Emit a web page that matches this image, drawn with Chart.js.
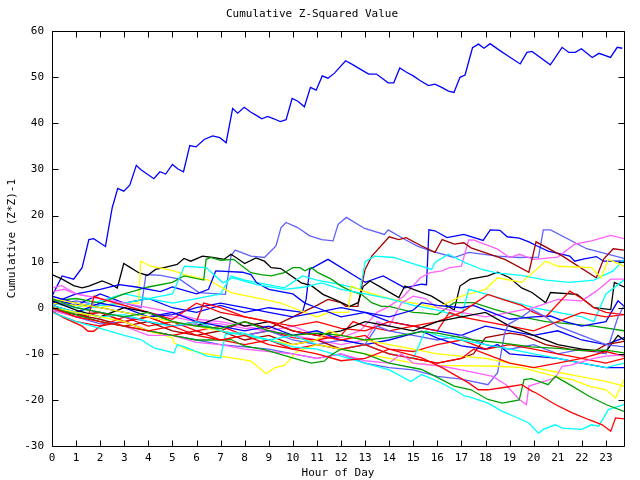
<!DOCTYPE html>
<html>
<head>
<meta charset="utf-8">
<script src="https://cdn.jsdelivr.net/npm/chart.js@4.4.1/dist/chart.umd.min.js"></script>
<style>
  html, body { margin: 0; padding: 0; background: #fff; }
</style>
</head>
<body>
<canvas id="chart" width="640" height="480"></canvas>
<script>
// --- DATA (hour of day, cumulative value) ---
const hourTicks = [0,1,2,3,4,5,6,7,8,9,10,11,12,13,14,15,16,17,18,19,20,21,22,23];
const valueTicks = [-30,-20,-10,0,10,20,30,40,50,60];

const bigBlue = [[0,2.5],[0.42,6.9],[0.9,6.2],[1.25,8.7],[1.53,14.8],[1.73,15],[2.22,13.3],[2.5,21.7],[2.73,25.9],[2.98,25.3],[3.23,26.6],[3.5,30.9],[3.68,30],[4.23,28],[4.48,29.5],[4.72,29],[5.0,31.1],[5.23,30.1],[5.46,29.5],[5.72,35.2],[5.98,34.9],[6.32,36.5],[6.67,37.3],[6.97,36.9],[7.23,35.8],[7.5,43.2],[7.71,42.2],[7.98,43.5],[8.26,42.4],[8.47,41.8],[8.71,41.0],[8.96,41.5],[9.21,41.0],[9.48,40.4],[9.72,40.8],[9.97,45.4],[10.21,44.8],[10.48,43.6],[10.73,47.8],[10.97,47.2],[11.22,50.3],[11.46,49.8],[11.73,50.9],[12.19,53.6],[12.43,52.9],[12.92,51.4],[13.15,50.7],[13.47,50.7],[13.96,48.8],[14.19,48.8],[14.44,52.0],[14.72,51.1],[15.0,50.3],[15.28,49.3],[15.63,48.2],[15.9,48.5],[16.18,47.8],[16.46,47.0],[16.69,46.7],[16.94,50.0],[17.15,50.5],[17.46,56.4],[17.71,57.2],[17.94,56.3],[18.19,57.3],[18.54,56.0],[19.03,54.3],[19.44,52.9],[19.72,55.4],[19.93,55.6],[20.69,52.7],[21.18,56.5],[21.46,55.4],[21.73,55.4],[21.98,56.2],[22.43,54.3],[22.71,55.2],[23.19,54.3],[23.47,56.5],[23.68,56.3]];

const peri1 = [[0,0.5],[1,1.5],[2,0.5],[3,1],[3.7,0],[3.9,7.2],[4.5,7],[5.3,6.2],[6.1,3.3],[7.2,2.9],[7.43,11.2],[7.6,12.5],[8.26,11.2],[8.82,10.9],[9.3,13.4],[9.51,17.4],[9.72,18.5],[10.2,17.4],[10.7,15.6],[11.2,14.8],[11.67,14.5],[11.88,18.1],[12.22,19.6],[12.98,17.2],[13.8,15.9],[13.96,16.9],[14.65,14.8],[15.2,13.3],[15.76,12.3],[16.7,10.9],[17.3,12],[18.5,11.2],[19.4,10.9],[20.2,11],[20.4,16.9],[20.7,16.9],[22.2,12.8],[23.75,10.7]];
const magenta1 = [[0,4.3],[0.4,4.8],[1,3],[2,2],[3,0.5],[4,-1],[5,-2],[6,-3],[7,-3.5],[8,-4.5],[9,-5],[10,-4],[11,-6],[12,-6.5],[12.8,-5],[13.5,-1],[14,0.3],[14.6,2.5],[15.3,6.5],[15.7,7.6],[16.2,8],[16.5,8.7],[17,9],[17.3,14.7],[17.5,14.7],[18.5,12.7],[19,10.9],[19.4,11.6],[20,10.5],[21,11],[21.7,13.8],[22.4,14.5],[23.2,15.7],[23.75,15]];
const darkRed1 = [[0,0],[1,-1.5],[2,-1],[3,-3],[4,-2],[5,-4],[6,-3],[7,-5],[8,-3],[9,-4.5],[10,-2],[11,0.5],[11.46,1.8],[12,1.1],[12.2,0.3],[12.7,0.3],[12.84,4.3],[13.0,8.3],[13.28,11.2],[14,15.4],[14.4,14.8],[14.7,15.2],[15.35,13.4],[15.9,12],[16.2,14.8],[16.7,13.8],[17.1,14.1],[17.4,13],[18.8,10.5],[19.8,7.7],[20.1,14.3],[21.2,11.2],[22.6,6.5],[22.9,10.5],[23.3,12.8],[23.75,12.5]];
const blue2 = [[0,2],[1,0.5],[2,3],[3,1],[4,2],[5,0],[6,-1],[7,0.5],[8,-1],[9,0],[10.4,-1],[10.55,1.8],[10.7,8.3],[11.46,10.5],[12.7,6.5],[13.0,5.5],[13.75,6.9],[14.65,4.3],[15.35,5.1],[15.55,5],[15.65,16.9],[15.9,16.7],[16.4,15.2],[17.1,15.9],[17.9,14.6],[18.2,16.9],[18.6,16.8],[18.9,15.4],[19.4,15.1],[19.8,14.3],[20.1,13.5],[20.6,12.3],[21.2,11.6],[21.5,11.2],[21.7,10.1],[22.1,10.6],[22.6,11.1],[22.9,10.1],[23.75,10.1]];
const black1 = [[0,7.2],[0.42,6.2],[0.9,4.8],[1.25,4.3],[1.53,4.7],[2.08,5.8],[2.43,5.1],[2.71,4.3],[2.98,9.6],[3.26,8.7],[3.6,7.6],[3.96,7.0],[4.3,8.3],[4.65,8.7],[5.2,9.4],[5.48,10.7],[5.76,10.1],[6.25,11.2],[6.67,10.9],[7.15,10.5],[7.43,11.6],[7.7,10.7],[8.0,9.6],[8.47,10.8],[8.82,10.1],[9.1,8.7],[9.5,8.5],[10.35,5.4],[10.77,4.8],[11.25,2.9],[11.73,1.8],[12.36,0.3],[12.71,1.1],[12.92,4.6],[13.2,5.8],[13.7,4.3],[14.4,2.2],[14.65,4.7],[15.2,3.6],[15.76,2.5],[16.2,1.1],[16.7,-0.5],[16.94,4.7],[17.36,6.2],[18.1,6.9],[18.5,7.7],[19.0,6.5],[19.5,4.3],[19.93,3.3],[20.5,1.1],[20.7,3.3],[21.8,2.9],[22.5,0],[23.2,-0.4],[23.35,5.5],[23.75,4.5]];
const black2 = [[0,1.5],[1,-0.5],[2,-2],[3,0],[4,-1],[5,-3],[6,-4],[7,-2],[8,-4],[9,-3],[10,-5],[11,-6],[12,-5],[13,-3],[14,-4],[15,-5],[16,-3],[17,-2],[18,-1],[19,-4],[20,-6],[21,-8],[22,-9],[23,-9.5],[23.5,-6],[23.75,-7]];
const green1 = [[0,1.5],[1,2],[2,1],[3,3],[4,4.5],[5,5.5],[5.48,6.9],[6.3,6],[6.4,10.5],[6.6,10.9],[7.0,10.3],[7.55,10.5],[7.85,9.2],[8.26,7.6],[8.68,7.2],[9.1,6.9],[9.65,7.6],[10,8.7],[10.3,8.7],[10.5,8.0],[10.77,8.7],[11.04,7.6],[11.6,6.2],[12,4.7],[12.43,3.6],[12.85,2.9],[13.27,1.1],[13.68,0.3],[14,0.3],[15,-1],[15.35,-1.1],[16,-1.5],[16.7,1.1],[17.5,1.1],[18.4,-0.4],[19.5,-2],[20.5,-3],[21.5,-3.5],[22.5,-4],[23.75,-5]];
const green2 = [[0,2],[1,0],[2,-1],[3,-2],[4,-1],[5,-3],[6,-4],[7,-4.5],[8,-3],[9,-5],[10,-6],[11,-5.5],[12,-6],[13,-7],[14,-6.5],[15.35,-5.2],[16,-5.5],[16.5,-6],[17.5,-7],[18.5,-7.5],[19.9,-8.5],[21,-8.8],[22,-9.3],[23,-9.2],[23.75,-9.8]];
const green3 = [[0,0],[1,-1.5],[2,-3],[3,-4],[4,-5],[5,-6],[6,-7],[7,-7],[7.43,-6.9],[7.98,-8.3],[8.82,-9.1],[10.2,-11.2],[10.77,-12],[11.3,-11.6],[11.6,-10.2],[12,-9],[13,-10],[14,-12],[15.35,-13.4],[16.18,-15.6],[16.7,-17],[17.4,-17.8],[18.1,-19.9],[18.7,-20.7],[19.4,-20],[19.6,-15.6],[19.9,-15.4],[20.6,-16.7],[20.9,-14.9],[21.6,-17],[22.3,-19.2],[23,-21],[23.75,-22.5]];
const cyan1 = [[0,-1],[0.5,-2],[1,-3],[2,-4.5],[3,-6],[3.68,-6.9],[4.23,-8.7],[5.07,-9.8],[5.2,-8],[5.5,-8.5],[6.45,-10.5],[7.0,-10.9],[7.2,-5.8],[7.85,-5.4],[9,-7],[10,-8.5],[11,-9],[12,-10.5],[13,-12],[14,-13.5],[14.9,-16],[15.35,-14.5],[16.04,-16],[16.7,-17.8],[17.15,-19.2],[17.3,-19.3],[18.1,-20.7],[18.7,-22.5],[19.2,-23.6],[19.8,-25],[20.2,-27.2],[20.4,-26.4],[20.9,-25.4],[21.2,-26.1],[22,-26.4],[22.4,-25.4],[22.7,-25.7],[23.1,-22.1],[23.75,-21]];
const red1 = [[0,0],[1,-2],[2,-3],[3,-4],[4,-5],[5,-4],[6,-6],[7,-7],[8,-6],[9,-8],[10,-9],[11,-10],[12,-11.5],[13,-11],[14,-9],[15.35,-10.9],[16.2,-13],[16.7,-14.5],[17.3,-16.3],[17.7,-17.8],[18.1,-17.8],[18.9,-17.2],[19.5,-16.7],[19.93,-18.1],[20.1,-18.5],[20.9,-21],[21.6,-22.8],[22.3,-24.3],[22.85,-25.4],[23.2,-26.8],[23.4,-23.9],[23.75,-24.1]];
const yellow1 = [[0,0],[1,-1],[2,-2],[3,-3],[4,-5],[5,-6.5],[5.07,-7.6],[5.6,-9.1],[6.2,-9.8],[7.0,-10.5],[7.85,-11.2],[8.26,-11.6],[8.9,-14.3],[9.25,-13],[9.65,-12.5],[10,-10.5],[10.2,-9.4],[11,-8],[12,-9],[13,-10],[14,-11],[15,-12],[16,-12.5],[18.5,-12.7],[19.5,-13],[20.9,-14.9],[21.6,-15.6],[22.3,-17],[23,-17.8],[23.4,-19.6],[23.75,-15.6]];
const magenta2 = [[0,-0.5],[1,-2],[2,-3],[3,-4],[4,-6],[5,-6],[6,-7.5],[7,-8],[8,-9],[9,-9.5],[10,-10],[11,-11],[12,-10],[13,-11.5],[14,-12],[14.5,-10],[15,-12],[16.2,-12.7],[17,-13.5],[18.3,-14.9],[18.85,-16.7],[19.4,-19.9],[19.7,-21],[19.8,-17],[20.9,-15.2],[21.18,-12.7],[21.5,-12.5],[22.5,-11],[23,-10.5],[23.75,-10.2]];
const cyan2 = [[0,1],[1,0],[2,1.5],[3,3],[4,2],[5,1],[6,2],[7,3],[7.43,6.9],[8,6],[9.65,4.3],[10.4,6.9],[11,6],[12,5],[12.8,4],[13.0,10],[13.4,11.2],[14.2,10.9],[14.65,10.1],[15.76,8.3],[15.9,9.8],[16.46,11.6],[17.15,9.8],[17.85,8.3],[18.5,7.5],[19.5,7],[20.5,6],[21.5,5.5],[22.5,6],[23.3,8],[23.75,10.5]];
const cyan3 = [[0,-0.5],[1,-1],[2,0.5],[3,1],[4,2],[5,3],[5.5,9.0],[6.4,8.7],[7.1,5.4],[7.5,6.5],[8.5,5],[9.65,4],[10.5,4.5],[11.2,5.4],[12,4],[13,3],[14,2],[15,0.5],[16,-0.5],[17,-2],[17.3,4],[18,3],[19,1.5],[20,0],[21,-1],[22,-2],[22.5,-3],[23,3],[23.75,6]];
const yellow2 = [[0,1],[1,0.5],[2,0],[3,1],[3.6,1],[3.68,10.1],[4.1,9.0],[5.07,8.0],[5.48,7.2],[6.5,6],[7.43,3.3],[8.8,1.8],[9.5,1],[10,0],[11,-2],[11.5,-1],[12.3,-1],[12.43,4.7],[13,3.5],[14,2],[15,1],[16,0],[17,2.5],[18,4],[18.5,6.5],[19.5,5.5],[20.5,10.1],[21,9],[22.4,8.7],[22.8,6.5],[23.1,10.5],[23.75,9]];
const blue3 = [[0,1],[1,3],[2,4],[2.8,5],[3.5,4.5],[4.5,3.5],[5,4.5],[6,3],[6.5,4],[6.8,8],[7.9,7.7],[8.26,7.2],[8.5,5.4],[9,4],[10,3],[10.5,1],[11,0],[12,-2],[13,-1],[14,-3],[15,-4],[16,-5],[17,-6],[18,-4],[19,-5],[20,-6],[21,-5],[22,-7],[23,-8],[23.75,-6.5]];
const blue4 = [[0,2.5],[1,1],[2,0],[3,-1],[4,-2],[5,-1],[6,-3],[7,-4],[8,-5],[9,-4],[10,-6],[11,-5],[12,-7],[13,-8],[14,-7],[15.35,-5.1],[16,-6.6],[17,-8.3],[18,-9],[18.5,-8],[19,-10],[20,-10.5],[21,-11],[22,-12],[23,-13],[23.75,-13]];
const blue5 = [[0,0.5],[1,-1],[2,1],[3,0],[4,-2],[5,-1.5],[6,0],[7,1],[8,0],[9,-1],[10,-2],[11,-1],[12,0],[13,-1],[14,-2],[15,-0.5],[15.35,1.1],[16,0.5],[17,0],[17.5,0.5],[18,-0.5],[19,-2.5],[20,-2],[20.7,-1.8],[21.3,-3],[22,-4],[23,-3],[23.5,1.5],[23.75,0.35]];
const red2 = [[0,0.5],[0.5,-0.5],[1,-1],[1.5,-2],[1.75,2.5],[2,2],[3,0.5],[4,-1],[5,-2.5],[6,1],[6.5,0],[7,-1],[8,-2],[9,-3],[10,-4],[11,-3],[12,-4.5],[13,-5],[14,-3],[15,-4],[16,-5],[16.5,-1],[17,-2],[18,-3],[19,-4],[20,-5],[21,-3],[22,-1],[23,-2],[23.75,-1.5]];
const red3 = [[0,-0.7],[0.5,-2.2],[1.25,-4],[1.5,-5.1],[1.73,-5.1],[2,-4],[3,-2],[4,-4],[5,-3],[6,-5],[7,-4],[8,-6],[9,-5],[10,-6.5],[11,-7],[12,-6],[12.5,-3],[13,-4],[14,-5],[15,-4],[16,-3],[17,-1],[18.1,2.9],[18.7,1.8],[19.5,0.5],[20,-1],[20.5,-2],[21.5,3.6],[22,2],[22.5,0],[23,-1],[23.75,-1.5]];
const red4 = [[0,-1],[1,-3],[2,-4],[3,-3],[4,-5],[5,-6],[6,-5],[7,-7],[8,-8],[9,-7],[10,-9],[11,-8],[12,-9],[13,-8],[14,-10],[15,-11],[16,-12],[17,-11],[17.5,-9],[18,-10],[19,-12],[20,-13],[21,-12],[22,-11],[23,-12],[23.75,-11]];
const red5 = [[0,0],[1,-2],[2,-1],[3,-3],[4,-2],[5,-4],[6,-3],[6.3,1],[7,0],[8,-2],[9,-3],[10,-5],[11,-6],[12,-7],[13,-6],[13.5,-8],[14,-9],[15,-9.5],[16,-8],[17,-7],[18,-9],[19,-8],[20,-9],[21,-10],[22,-11],[23,-9.5],[23.75,-10.5]];
const darkRed2 = [[0,-0.5],[1,-1.5],[2,-2.5],[3,-4],[4,-3],[5,-5],[6,-6],[7,-5],[8,-7],[9,-6],[10,-8],[11,-7],[12,-9],[13,-8],[14,-10],[15,-11],[16,-12],[17,-11],[17.5,-10],[18,-6.5],[19,-5.5],[19.6,-6],[20.5,-8],[21.5,-9],[22.5,-9.5],[23,-8],[23.75,-7.3]];
const magenta3 = [[0,3.5],[0.5,4],[1,3],[2,2],[3,1],[4,0],[5,-1],[6,-2.5],[7,-3],[8,-4],[9,-5],[10,-6],[11,-7],[12,-8],[13,-7],[13.5,-3],[14,-4],[14.5,1],[15,2.5],[15.5,2],[16,0],[17,-1],[18,-2],[19,-1],[20,0],[21,1.8],[22,1.5],[22.6,3.6],[23.2,6.2],[23.75,6.2]];
const peri2 = [[0,-0.5],[1,-2],[2,-3.5],[3,-3],[4,-5],[5,-6],[6,-7],[7,-8],[8,-8.5],[9,-9],[10,-10],[11,-11],[12,-10],[13,-12],[14,-13],[15,-13.5],[16,-14.9],[17,-15.5],[18.1,-16.7],[18.5,-14.1],[18.8,-5.4],[18.95,-3.6],[19.5,-2],[19.93,-0.4],[20.5,-2],[21,-4],[22,-6],[23,-8],[23.75,-8.5]];
const peri3 = [[0,1.5],[1,0],[2,-1],[3,-2],[4,-3],[5,-4],[6,-3.5],[7,-5],[8,-6],[9,-5],[10,-7],[11,-8],[12,-7],[13,-8],[13.5,-4],[14,-5],[15,-6],[16,-7],[17,-6],[18,-8],[19,-9],[20,-8],[21,-10],[22,-9],[23,-10],[23.5,-2],[23.75,0.5]];
const cyan4 = [[0,0.5],[1,-1],[2,-2],[3,-1.5],[4,-3],[5,-4],[6,-3],[7,-5],[8,-6],[9,-7],[10,-6],[11,-8],[12,-9],[13,-8],[14,-10],[15,-11],[15.5,-5],[16,-6],[17,-7],[18,-8],[19,-9],[20,-10],[21,-11],[22,-12],[23,-13],[23.75,-12]];
const yellow3 = [[0,2],[1,1],[2,0],[3,-1],[4,-2],[5,-3],[6,-4],[7,-5],[8,-6],[9,-7],[10,-8],[11,-7],[11.5,-5],[12,-6],[13,-7],[14,-8],[15,-9],[16,-10],[17,-10.5],[18,-11],[19,-12],[20,-13],[21,-14],[22,-15],[23,-16],[23.75,-17]];

const BLUE = "#0000ff", RED = "#ff0000", GREEN = "#00a000", BLACK = "#000000",
  CYAN = "#00ffff", MAGENTA = "#ff60ff", YELLOW = "#ffff00", PERI = "#6060ff", DARKRED = "#a00000";

const seriesList = [
  [red1, RED], [green3, GREEN], [cyan1, CYAN], [magenta2, MAGENTA], [yellow1, YELLOW],
  [red4, RED], [green2, GREEN], [cyan4, CYAN], [yellow3, YELLOW], [peri2, PERI],
  [darkRed2, DARKRED], [red5, RED], [black2, BLACK], [blue4, BLUE], [peri3, PERI],
  [red3, RED], [red2, RED], [blue5, BLUE], [magenta3, MAGENTA], [cyan3, CYAN],
  [blue3, BLUE], [green1, GREEN], [yellow2, YELLOW], [cyan2, CYAN], [black1, BLACK],
  [darkRed1, DARKRED], [magenta1, MAGENTA], [blue2, BLUE], [peri1, PERI], [bigBlue, BLUE],
];

const FONT = { family: "'DejaVu Sans Mono', monospace", size: 11 };

// inward tick marks plus the plot frame, gnuplot style
const frameTicks = {
  id: "frameTicks",
  afterDatasetsDraw(chart) {
    const { ctx, chartArea: a, scales } = chart;
    const L = Math.round(a.left) + 0.5, R = Math.round(a.right) + 0.5;
    const T = Math.round(a.top) + 0.5, B = Math.round(a.bottom) + 0.5;
    ctx.save();
    ctx.strokeStyle = "#000";
    ctx.lineWidth = 1;
    ctx.beginPath();
    ctx.rect(L, T, R - L, B - T);
    hourTicks.forEach((h) => {
      const x = Math.round(scales.x.getPixelForValue(h)) + 0.5;
      ctx.moveTo(x, B); ctx.lineTo(x, B - 6);
      ctx.moveTo(x, T); ctx.lineTo(x, T + 6);
    });
    valueTicks.forEach((v) => {
      const y = Math.round(scales.y.getPixelForValue(v)) + 0.5;
      ctx.moveTo(L, y); ctx.lineTo(L + 6, y);
      ctx.moveTo(R, y); ctx.lineTo(R - 6, y);
    });
    ctx.stroke();
    ctx.restore();
  },
};

new Chart(document.getElementById("chart"), {
  type: "line",
  data: {
    datasets: seriesList.map(([pts, color]) => ({
      data: pts.map(([x, y]) => ({ x, y })),
      borderColor: color,
      borderWidth: 1.3,
      pointRadius: 0,
      tension: 0,
      fill: false,
    })),
  },
  options: {
    responsive: false,
    animation: false,
    devicePixelRatio: 1,
    layout: { padding: { right: 16 } },
    plugins: {
      legend: { display: false },
      tooltip: { enabled: false },
      title: {
        display: true,
        text: "Cumulative Z-Squared Value",
        color: "#000",
        font: { ...FONT, weight: "normal" },
        padding: { top: 8, bottom: 10 },
      },
    },
    scales: {
      x: {
        type: "linear",
        min: 0,
        max: 23.75,
        afterBuildTicks: (s) => { s.ticks = hourTicks.map((v) => ({ value: v })); },
        afterFit: (s) => { s.height = 34; },
        grid: { display: false, drawTicks: false },
        border: { display: false },
        ticks: { color: "#000", font: FONT, padding: 6, maxRotation: 0, autoSkip: false },
        title: { display: true, text: "Hour of Day", color: "#000", font: FONT, padding: { top: 1, bottom: 0 } },
      },
      y: {
        min: -30,
        max: 60,
        afterBuildTicks: (s) => { s.ticks = valueTicks.map((v) => ({ value: v })); },
        afterFit: (s) => { s.width = 52; },
        grid: { display: false, drawTicks: false },
        border: { display: false },
        ticks: { color: "#000", font: FONT, padding: 8 },
        title: { display: true, text: "Cumulative (Z*Z)-1", color: "#000", font: FONT, padding: { top: 6, bottom: 0 } },
      },
    },
  },
  plugins: [frameTicks],
});
</script>
</body>
</html>
